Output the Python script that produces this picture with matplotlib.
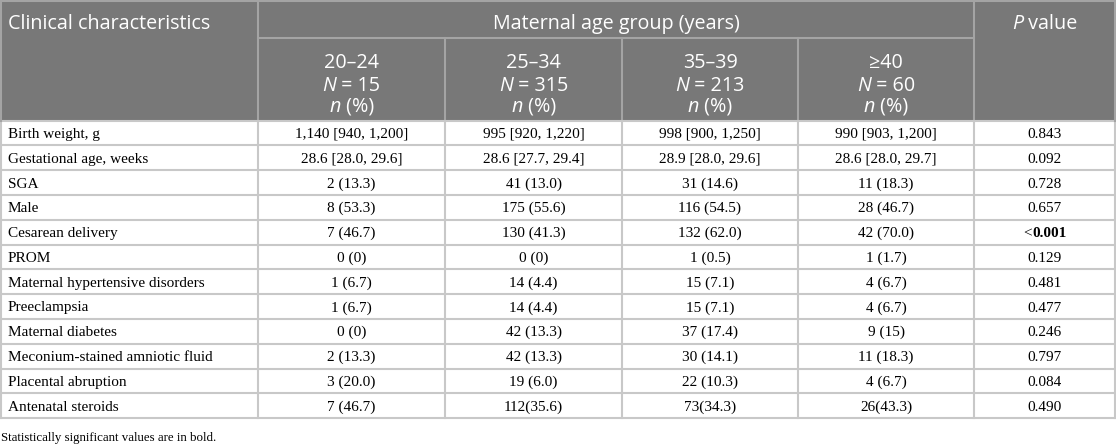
import matplotlib
matplotlib.use("Agg")
import matplotlib.pyplot as plt
from matplotlib.patches import Rectangle

# table contents
characteristics = [
    "Birth weight, g", "Gestational age, weeks", "SGA", "Male",
    "Cesarean delivery", "PROM", "Maternal hypertensive disorders",
    "Preeclampsia", "Maternal diabetes", "Meconium-stained amniotic fluid",
    "Placental abruption", "Antenatal steroids",
]
age_groups = ["20\u201324", "25\u201334", "35\u201339", "\u226540"]
group_n = [15, 315, 213, 60]
col_20_24 = ["1,140 [940, 1,200]", "28.6 [28.0, 29.6]", "2 (13.3)", "8 (53.3)",
             "7 (46.7)", "0 (0)", "1 (6.7)", "1 (6.7)", "0 (0)", "2 (13.3)",
             "3 (20.0)", "7 (46.7)"]
col_25_34 = ["995 [920, 1,220]", "28.6 [27.7, 29.4]", "41 (13.0)", "175 (55.6)",
             "130 (41.3)", "0 (0)", "14 (4.4)", "14 (4.4)", "42 (13.3)", "42 (13.3)",
             "19 (6.0)", "112(35.6)"]
col_35_39 = ["998 [900, 1,250]", "28.9 [28.0, 29.6]", "31 (14.6)", "116 (54.5)",
             "132 (62.0)", "1 (0.5)", "15 (7.1)", "15 (7.1)", "37 (17.4)", "30 (14.1)",
             "22 (10.3)", "73(34.3)"]
col_ge40 = ["990 [903, 1,200]", "28.6 [28.0, 29.7]", "11 (18.3)", "28 (46.7)",
            "42 (70.0)", "1 (1.7)", "4 (6.7)", "4 (6.7)", "9 (15)", "11 (18.3)",
            "4 (6.7)", "26(43.3)"]
p_values = ["0.843", "0.092", "0.728", "0.657", "<0.001", "0.129", "0.481",
            "0.477", "0.246", "0.797", "0.084", "0.490"]
significant = [False, False, False, False, True, False, False, False, False,
               False, False, False]
footnote = "Statistically significant values are in bold."

W, H = 1116, 448
col_edges = [0, 258, 445, 622, 798, 974, 1116]
head_split = 38.5
head_bottom = 120.7
row_h = 24.8

header_bg = "#787878"
line_col = "#c8c8c8"
head_line = "#a4a4a4"
sans = ["Open Sans", "DejaVu Sans"]
serif = ["Liberation Serif", "DejaVu Serif"]
head_fs = 14.2
body_fs = 11.0

fig = plt.figure(figsize=(W / 100, H / 100), dpi=100)
ax = fig.add_axes([0, 0, 1, 1])
ax.set_xlim(0, W)
ax.set_ylim(H, 0)
ax.axis("off")
renderer = fig.canvas.get_renderer()


def pieces(x, y, parts, family, size, color="black"):
    """Draw a row of text pieces centred at x on baseline y; parts = [(text, style, weight)]"""
    objs = []
    for txt, style, weight in parts:
        t = ax.text(0, y, txt, family=family, fontsize=size, style=style,
                    weight=weight, color=color, va="baseline", ha="left")
        objs.append(t)
    widths = [o.get_window_extent(renderer).width for o in objs]
    cur = x - sum(widths) / 2
    for o, w in zip(objs, widths):
        o.set_x(cur)
        cur += w


# header block
ax.add_patch(Rectangle((0, 0), W, head_bottom, facecolor=header_bg, edgecolor="none"))

top_base = 29
ax.text(8, top_base, "Clinical characteristics", family=sans, fontsize=head_fs,
        color="white", va="baseline", ha="left")
ax.text((col_edges[1] + col_edges[5]) / 2, top_base, "Maternal age group (years)",
        family=sans, fontsize=head_fs, color="white", va="baseline", ha="center")
pieces((col_edges[5] + col_edges[6]) / 2, top_base,
       [("P", "italic", "normal"), (" value", "normal", "normal")],
       sans, head_fs, "white")

for i, (g, n) in enumerate(zip(age_groups, group_n)):
    cx = (col_edges[i + 1] + col_edges[i + 2]) / 2
    ax.text(cx, 68.3, g, family=sans, fontsize=head_fs, color="white",
            va="baseline", ha="center")
    pieces(cx, 90.7, [("N", "italic", "normal"), (f" = {n}", "normal", "normal")],
           sans, head_fs, "white")
    pieces(cx, 111.5, [("n", "italic", "normal"), (" (%)", "normal", "normal")],
           sans, head_fs, "white")

# header rules
lw = 1.5
ax.plot([col_edges[1], col_edges[5]], [head_split, head_split], color=head_line, lw=lw)
for xe in [col_edges[2], col_edges[3], col_edges[4]]:
    ax.plot([xe, xe], [head_split, head_bottom], color=head_line, lw=lw)
for xe in [col_edges[1], col_edges[5]]:
    ax.plot([xe, xe], [0, head_bottom], color=head_line, lw=lw)
ax.plot([0, W], [0.7, 0.7], color=head_line, lw=lw)

# body
n_rows = len(characteristics)
table_bottom = head_bottom + n_rows * row_h
columns = [col_20_24, col_25_34, col_35_39, col_ge40]
for r in range(n_rows):
    by = head_bottom + (r + 0.5) * row_h + 4.8
    ax.text(8, by, characteristics[r], family=serif, fontsize=body_fs,
            va="baseline", ha="left")
    for c, col in enumerate(columns):
        cx = (col_edges[c + 1] + col_edges[c + 2]) / 2
        ax.text(cx, by, col[r], family=serif, fontsize=body_fs,
                va="baseline", ha="center")
    px = (col_edges[5] + col_edges[6]) / 2
    pv = p_values[r]
    if significant[r]:
        pieces(px, by, [("<", "normal", "normal"), (pv[1:], "normal", "bold")],
               serif, body_fs)
    else:
        ax.text(px, by, pv, family=serif, fontsize=body_fs, va="baseline", ha="center")

for r in range(n_rows + 1):
    yy = head_bottom + r * row_h
    ax.plot([0, W], [yy, yy], color=line_col, lw=lw)
for xe in col_edges:
    xx = min(max(xe, 0.7), W - 0.7)
    ax.plot([xx, xx], [head_bottom, table_bottom], color=line_col, lw=lw)
for xe in [0.7, W - 0.7]:
    ax.plot([xe, xe], [0, head_bottom], color=head_line, lw=lw)

ax.text(1, 441, footnote, family=serif, fontsize=9.3, va="baseline", ha="left")

fig.savefig("out.png", dpi=100)
